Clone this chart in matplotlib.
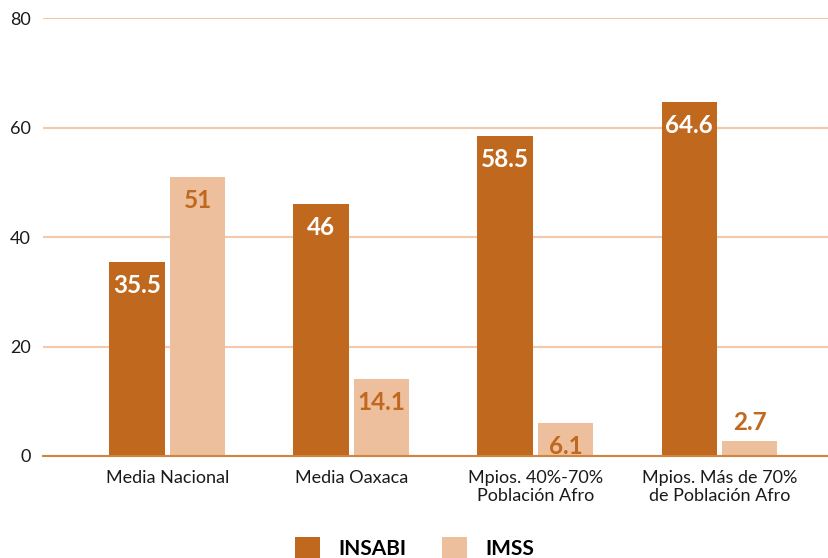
import matplotlib.pyplot as plt
import numpy as np

categories = ['Media Nacional', 'Media Oaxaca', 'Mpios. 40%-70%\nPoblación Afro', 'Mpios. Más de 70%\nde Población Afro']
insabi = [35.5, 46, 58.5, 64.6]
imss = [51, 14.1, 6.1, 2.7]
insabi_labels = ['35.5', '46', '58.5', '64.6']
imss_labels = ['51', '14.1', '6.1', '2.7']

dark = '#C0691E'
light = '#EDBF9D'
grid_color = '#F3C9A9'

plt.rcParams['font.family'] = ['Lato', 'DejaVu Sans']

fig = plt.figure(figsize=(8.29, 5.58), dpi=100)
ax = fig.add_axes([0.052, 0.1828, 0.948, 0.7849])

x = np.arange(len(categories))
width = 0.3
gap = 0.015
b1 = ax.bar(x - width / 2 - gap, insabi, width, color=dark, label='INSABI', zorder=3)
b2 = ax.bar(x + width / 2 + gap, imss, width, color=light, label='IMSS', zorder=3)

for xi, v, lab in zip(x - width / 2 - gap, insabi, insabi_labels):
    ax.text(xi, v - 2.2, lab, ha='center', va='top', color='white',
            fontsize=17.5, fontweight='bold', zorder=4)
for xi, v, lab in zip(x + width / 2 + gap, imss, imss_labels):
    if v < 5:
        ax.text(xi, v + 1.4, lab, ha='center', va='bottom', color=dark,
                fontsize=17.5, fontweight='bold', zorder=4)
    else:
        ax.text(xi, v - 2.2, lab, ha='center', va='top', color=dark,
                fontsize=17.5, fontweight='bold', zorder=4)

ax.set_ylim(0, 80)
ax.set_xlim(-0.675, 3.595)
ax.set_yticks([0, 20, 40, 60, 80])
ax.set_xticks(x)
ax.set_xticklabels(categories, fontsize=13, color='#1a1a1a', linespacing=1.2)
ax.tick_params(axis='y', labelsize=13, labelcolor='#1a1a1a', length=0, pad=9)
ax.tick_params(axis='x', length=0, pad=10)
ax.yaxis.grid(True, color=grid_color, linewidth=1.5, zorder=0)
for side in ['top', 'right', 'left']:
    ax.spines[side].set_visible(False)
ax.spines['bottom'].set_color('#D2853F')
ax.spines['bottom'].set_linewidth(1.5)
ax.spines['bottom'].set_zorder(5)

fig.legend(handles=[b1, b2], loc='lower center', bbox_to_anchor=(0.5, -0.035),
           ncol=2, frameon=False, handlelength=1.2, handleheight=1.2,
           columnspacing=1.7, handletextpad=0.9,
           prop={'weight': 'bold', 'size': 15})

plt.savefig('out.png', dpi=100)
